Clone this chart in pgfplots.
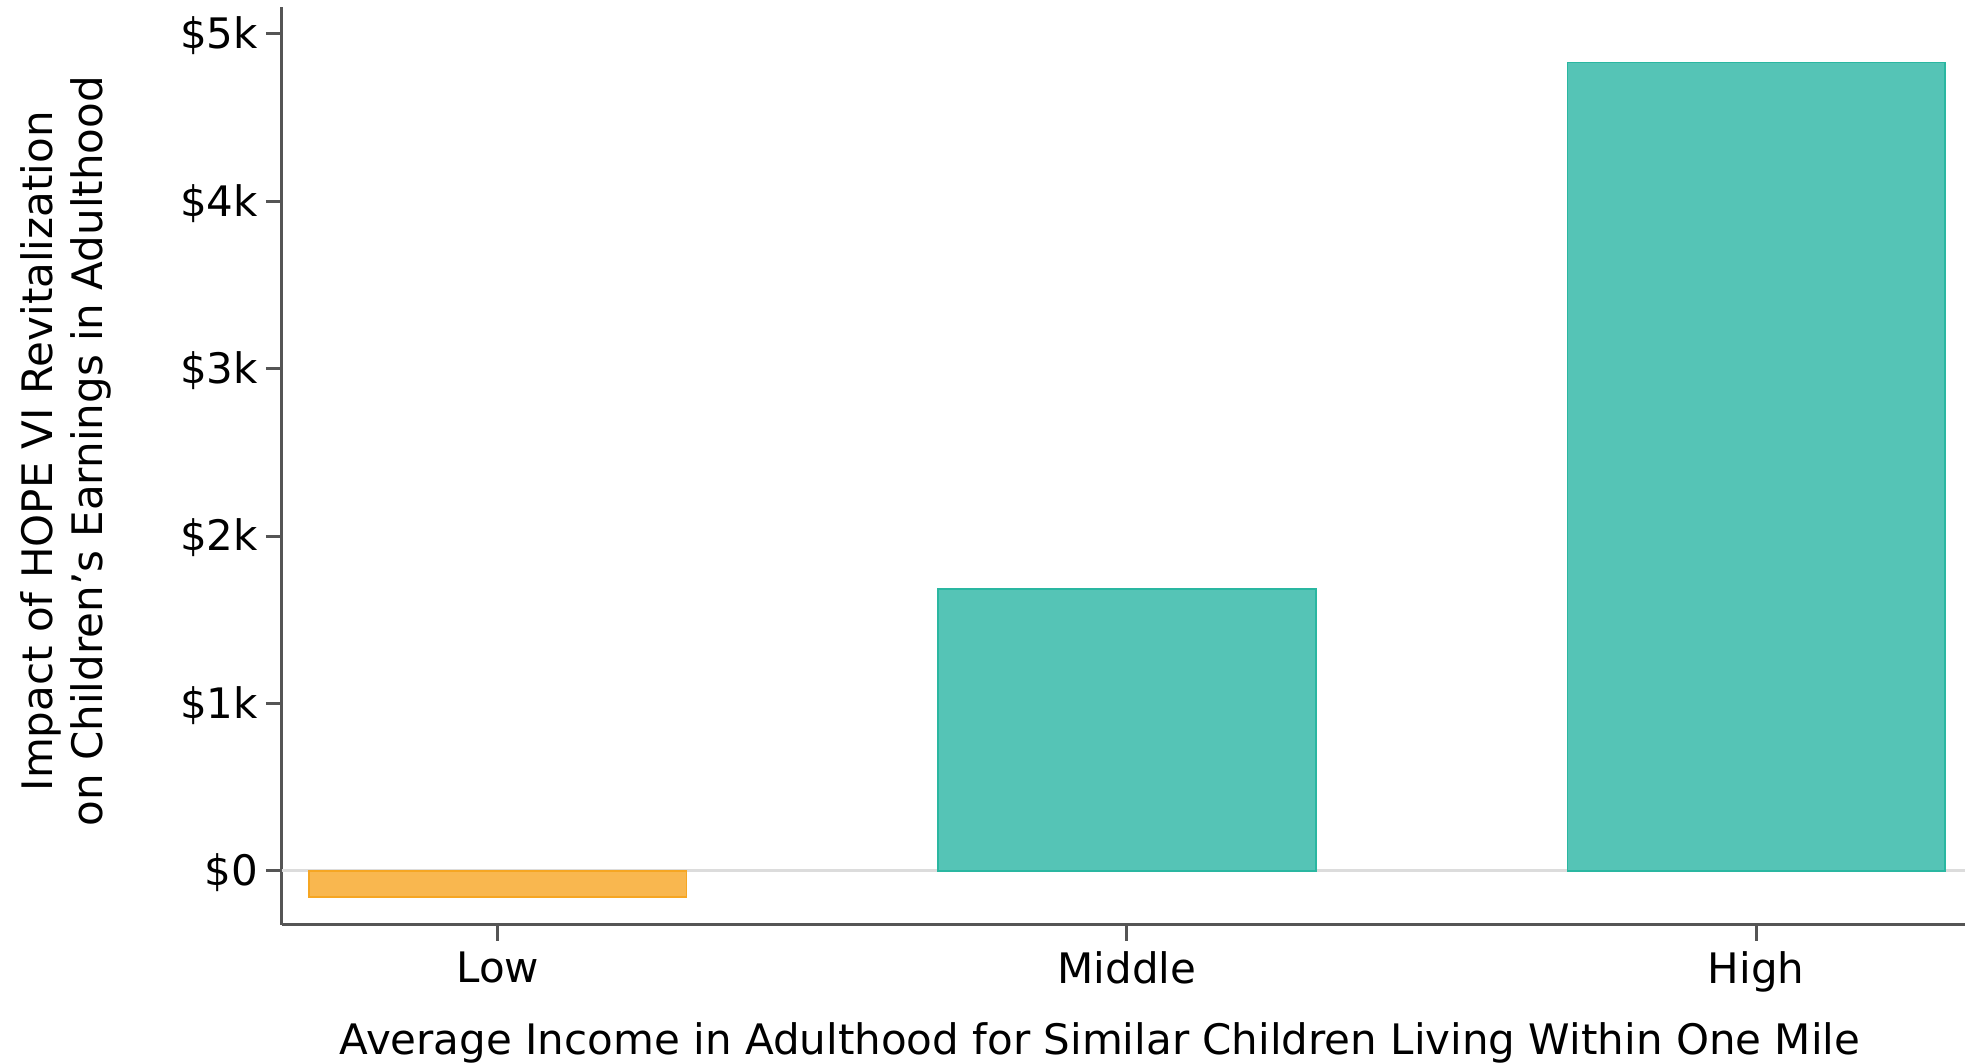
\documentclass[border=0pt]{standalone}
\usepackage{pgfplots}
\pgfplotsset{compat=1.18}
\usepackage{fontspec}
\setmainfont{DejaVu Sans}
\definecolor{tealfill}{HTML}{55C4B6}
\definecolor{tealedge}{HTML}{2AB7A1}
\definecolor{orfill}{HTML}{F9B74F}
\definecolor{oredge}{HTML}{F6A623}
\definecolor{axisgray}{HTML}{555555}
\definecolor{zerogray}{HTML}{DCDCDC}
\begin{document}
\begin{tikzpicture}
\begin{axis}[name=ax, scale only axis, width=420.75pt, height=229.5pt,
  xmin=-0.343, xmax=2.332, ymin=-323, ymax=5160,
  axis x line*=bottom, axis y line*=left,
  axis line style={color=axisgray, line width=0.75pt, -},
  xtick={0,1,2}, xticklabels={Low,Middle,High},
  ytick={0,1000,2000,3000,4000,5000},
  yticklabels={\$0,\$1k,\$2k,\$3k,\$4k,\$5k},
  tick style={color=axisgray, line width=0.75pt},
  tick align=outside, major tick length=4pt,
  tick label style={font=\fontsize{10.5}{12}\selectfont, text=black},
  yticklabel style={xshift=1.5pt, yshift=-0.5pt},
  xticklabel style={yshift=0.8pt},
  xlabel={Average Income in Adulthood for Similar Children Living Within One Mile},
  xlabel style={at={(rel axis cs:0.486,0)}, anchor=base, yshift=-32.5pt, font=\fontsize{10.5}{12}\selectfont},
  ylabel={Impact of HOPE VI Revitalization\\on Children’s Earnings in Adulthood},
  ylabel style={at={(rel axis cs:0,0.516)}, anchor=center, rotate=0, yshift=54pt, align=center, font=\fontsize{10.5}{12.5}\selectfont},
  clip=false,
]
\addplot[draw=zerogray, line width=0.75pt, forget plot] coordinates {(-0.343,0) (2.332,0)};
\addplot[ybar, bar width=0.6, bar shift=0pt, fill=orfill, draw=oredge, line width=0.4pt] coordinates {(0,-155)};
\addplot[ybar, bar width=0.6, bar shift=0pt, fill=tealfill, draw=tealedge, line width=0.4pt] coordinates {(1,1685) (2,4829)};
\end{axis}
\pgfresetboundingbox
\path[use as bounding box] ([xshift=-70.5pt,yshift=-34.75pt]ax.south west) rectangle ([yshift=1.75pt]ax.north east);
\end{tikzpicture}
\end{document}
